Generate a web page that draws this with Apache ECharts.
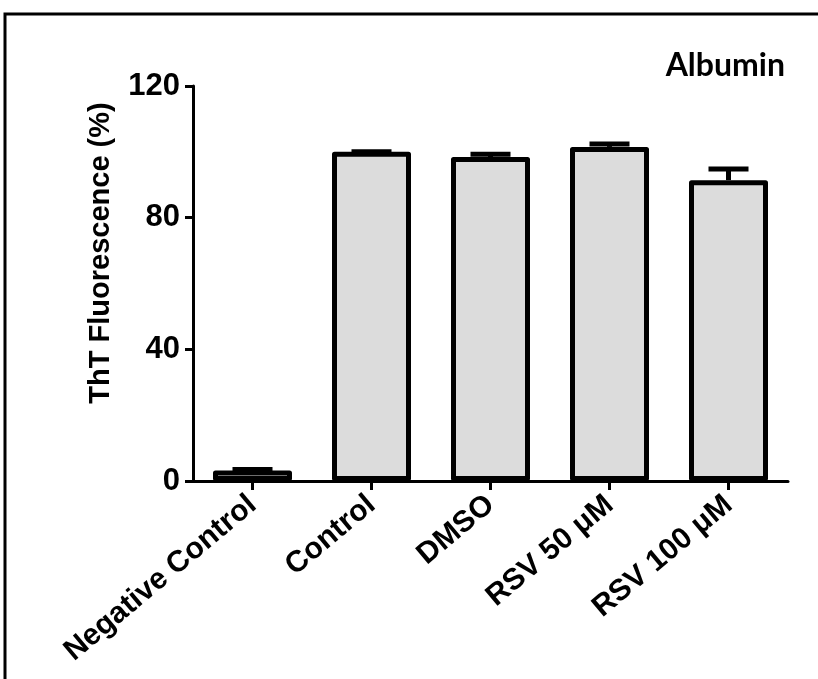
<!DOCTYPE html>
<html>
<head>
<meta charset="utf-8">
<script src="https://cdn.jsdelivr.net/npm/echarts@6/dist/echarts.min.js"></script>
<style>
html,body{margin:0;padding:0;background:#fff;}
#chart{width:818px;height:679px;}
</style>
</head>
<body>
<div id="chart"></div>
<script>
var categories = ['Negative Control', 'Control', 'DMSO', 'RSV 50 \u03bcM', 'RSV 100 \u03bcM'];
var means = [3.2, 100, 98.4, 101.5, 91.4];
var errors = [0.3, 0, 0.9, 0.9, 3.4];
var yTicks = [0, 40, 80, 120];

var chart = echarts.init(document.getElementById('chart'));
var axisFont = 'Liberation Sans, Arial, sans-serif';
var option = {
  backgroundColor: '#ffffff',
  animation: false,
  grid: {left: 193, right: 30, top: 86, bottom: 198, containLabel: false},
  graphic: [
    {type: 'rect', shape: {x: 5, y: 14, width: 1000, height: 1000},
     style: {fill: 'none', stroke: '#000', lineWidth: 3}, z: 0},
    {type: 'text', x: 101, y: 253, rotation: Math.PI / 2, z: 10,
     style: {text: 'ThT Fluorescence (%)', font: 'bold 29px "Liberation Sans", Arial, sans-serif',
             fill: '#000', textAlign: 'center', textVerticalAlign: 'middle'}},
    {type: 'text', x: 785, y: 66, z: 10,
     style: {text: 'Albumin', font: 'bold 32px Lato, "Open Sans", sans-serif',
             fill: '#000', textAlign: 'right', textVerticalAlign: 'middle'}}
  ],
  xAxis: {
    type: 'category',
    data: categories,
    axisLine: {lineStyle: {color: '#000', width: 3}},
    axisTick: {show: true, alignWithLabel: true, length: 9, lineStyle: {color: '#000', width: 3}},
    axisLabel: {rotate: 40, margin: 20, color: '#000', fontSize: 30, fontWeight: 'bold', fontFamily: axisFont, interval: 0}
  },
  yAxis: {
    type: 'value',
    min: 0, max: 120, interval: 40,
    splitLine: {show: false},
    axisLine: {show: true, lineStyle: {color: '#000', width: 3}},
    axisTick: {show: true, length: 8, lineStyle: {color: '#000', width: 3}},
    axisLabel: {color: '#000', fontSize: 31, fontWeight: 'bold', fontFamily: axisFont, margin: 13,
      formatter: function (v) { return yTicks.indexOf(v) >= 0 ? String(v) : ''; }}
  },
  series: [
    {
      type: 'bar',
      data: means,
      barWidth: 79,
      itemStyle: {color: '#dcdcdc', borderColor: '#000', borderWidth: 5, borderJoin: 'round'},
      z: 2
    },
    {
      type: 'custom',
      z: 3,
      data: means.map(function (m, i) { return [i, m, m + errors[i]]; }),
      renderItem: function (params, api) {
        var i = api.value(0);
        var p0 = api.coord([i, api.value(1)]);
        var p1 = api.coord([i, api.value(2)]);
        var half = 20;
        return {
          type: 'group',
          children: [
            {type: 'line', shape: {x1: p0[0], y1: p0[1], x2: p1[0], y2: p1[1]},
             style: {stroke: '#000', lineWidth: 5}},
            {type: 'line', shape: {x1: p1[0] - half, y1: p1[1], x2: p1[0] + half, y2: p1[1]},
             style: {stroke: '#000', lineWidth: 5}}
          ]
        };
      }
    }
  ]
};
chart.setOption(option);
</script>
</body>
</html>
